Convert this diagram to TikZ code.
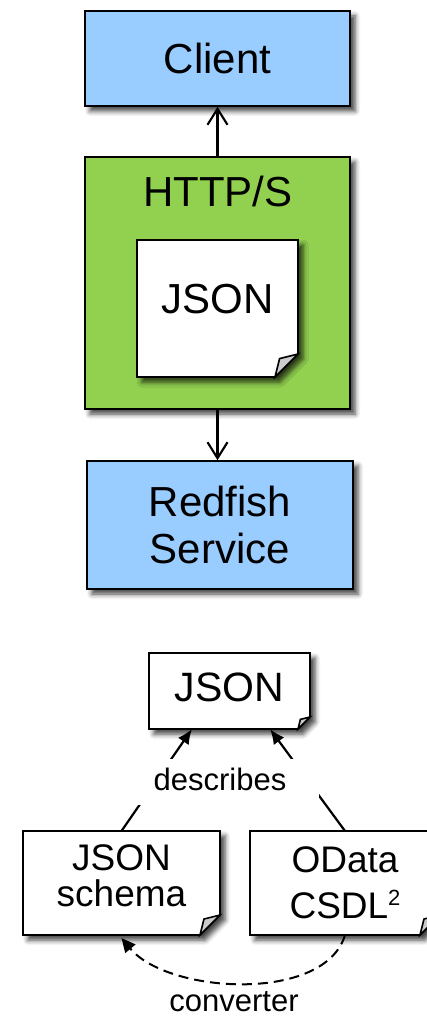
\documentclass[tikz,border=0pt]{standalone}
\usepackage{fontspec}
\setmainfont{Liberation Sans}
\usetikzlibrary{arrows.meta,shadows.blur}

\definecolor{boxblue}{RGB}{153,204,255}
\definecolor{boxgreen}{RGB}{146,208,80}
\definecolor{foldgray}{gray}{0.8}

% A rectangle whose lower right corner is turned over (dog-ear note)
\makeatletter
\newdimen\dnL \newdimen\dnR \newdimen\dnT \newdimen\dnB \newdimen\dnF
\pgfkeys{/pgf/dog ear size/.initial=12pt}
\pgfdeclareshape{dog ear note}{
  \inheritsavedanchors[from=rectangle]
  \inheritanchorborder[from=rectangle]
  \inheritanchor[from=rectangle]{center}
  \inheritanchor[from=rectangle]{text}
  \inheritanchor[from=rectangle]{base}
  \inheritanchor[from=rectangle]{north}
  \inheritanchor[from=rectangle]{south}
  \inheritanchor[from=rectangle]{east}
  \inheritanchor[from=rectangle]{west}
  \inheritanchor[from=rectangle]{north east}
  \inheritanchor[from=rectangle]{north west}
  \inheritanchor[from=rectangle]{south east}
  \inheritanchor[from=rectangle]{south west}
  \savedmacro\dogear{%
    \pgfmathsetlength\pgf@x{\pgfkeysvalueof{/pgf/dog ear size}}%
    \edef\dogear{\the\pgf@x}}
  \backgroundpath{%
    \southwest \dnL=\pgf@x \dnB=\pgf@y
    \northeast \dnR=\pgf@x \dnT=\pgf@y
    \dnF=\dogear\relax
    \pgfpathmoveto{\pgfqpoint{\dnL}{\dnT}}%
    \pgfpathlineto{\pgfqpoint{\dnR}{\dnT}}%
    \pgfpathlineto{\pgfqpoint{\dnR}{\dimexpr\dnB+\dnF\relax}}%
    \pgfpathlineto{\pgfqpoint{\dimexpr\dnR-\dnF\relax}{\dnB}}%
    \pgfpathlineto{\pgfqpoint{\dnL}{\dnB}}%
    \pgfpathclose
  }
  \beforeforegroundpath{%
    \southwest \dnL=\pgf@x \dnB=\pgf@y
    \northeast \dnR=\pgf@x \dnT=\pgf@y
    \dnF=\dogear\relax
    \pgfscope
    \pgfsetfillcolor{foldgray}%
    \pgfpathmoveto{\pgfqpoint{\dnR}{\dimexpr\dnB+\dnF\relax}}%
    \pgfpathlineto{\pgfqpoint{\dimexpr\dnR-\dnF\relax}{\dnB}}%
    \pgfpathlineto{\pgfqpoint{\dimexpr\dnR-0.8\dnF\relax}{\dimexpr\dnB+0.8\dnF\relax}}%
    \pgfpathclose
    \pgfusepath{fill,stroke}%
    \endpgfscope
  }
}
\makeatother

\tikzset{
  dog ear size/.code={\pgfkeys{/pgf/dog ear size=#1}},
  shadowed/.style={draw=black, line width=1.6pt,
    blur shadow={shadow xshift=5pt, shadow yshift=-5pt,
                 shadow blur radius=5pt, shadow opacity=75}},
  bigfont/.style={font=\fontsize{42}{47}\selectfont},
  bluebox/.style={shadowed, rectangle, fill=boxblue, align=center,
                  inner sep=0pt, bigfont},
  greenbox/.style={shadowed, rectangle, fill=boxgreen, inner sep=0pt},
  notebox/.style={shadowed, shape=dog ear note, fill=white, outer sep=0pt,
                  inner sep=0pt, align=center},
  openarrow/.style={line width=2.1pt, -{Straight Barb[length=16pt,width=20pt]}},
  solidarrow/.style={line width=2.2pt, -{Latex[length=15pt,width=13pt]}},
  dasharrow/.style={line width=2pt, dash pattern=on 10pt off 6pt,
                    -{Triangle[length=14pt,width=13pt]}},
  smalltext/.style={font=\fontsize{31}{35}\selectfont, inner sep=0pt},
}

\begin{document}
\begin{tikzpicture}[x=1pt, y=-1pt]
\useasboundingbox (0,0) rectangle (426,1016);

% protocol stack
\node[bluebox, minimum width=265pt, minimum height=95pt] (client) at (217.5,58.5) {Client};
\node[greenbox, minimum width=265pt, minimum height=252pt] (http) at (217.5,283) {};
\node[bigfont, anchor=base, inner sep=0pt] (httptitle) at (218,207) {HTTP/S};
\node[notebox, dog ear size=23pt, minimum width=161pt, minimum height=137pt,
      bigfont, text depth=20pt] (payload) at (217.5,308.5) {JSON};
\node[bluebox, minimum width=266pt, minimum height=128pt] (service) at (220,525) {Redfish\\Service};

\draw[openarrow] (http.north) -- (client.south);
\draw[openarrow] (http.south) -- (http.south |- service.north);

% schema documents
\node[notebox, dog ear size=12pt, minimum width=161pt, minimum height=76pt,
      font=\fontsize{41}{47}\selectfont, text depth=8.6pt] (json) at (229.5,691) {JSON};
\node[notebox, dog ear size=20pt, minimum width=197pt, minimum height=104pt,
      font=\fontsize{37}{36}\selectfont, text depth=14pt] (schema) at (121.5,883) {JSON\\schema};
\node[notebox, dog ear size=20pt, minimum width=190pt, minimum height=104pt,
      font=\fontsize{37}{46}\selectfont, text depth=-6pt] (csdl) at (345,883)
      {OData\\CSDL\raisebox{13pt}{\fontsize{22}{22}\selectfont 2}};

\draw[solidarrow] (schema.north) -- ([xshift=43pt]json.south west);
\draw[solidarrow] (csdl.north) -- ([xshift=-40pt]json.south east);
\node[smalltext, fill=white, anchor=base, inner xsep=33pt, inner ysep=9pt,
      text depth=6pt] (describes) at (220,790) {describes};

\draw[dasharrow] (csdl.south) .. controls (325,1003) and (168,994) .. ([yshift=-3pt]schema.south);
\node[smalltext, anchor=base] (converter) at (234,1011) {converter};
\end{tikzpicture}
\end{document}
